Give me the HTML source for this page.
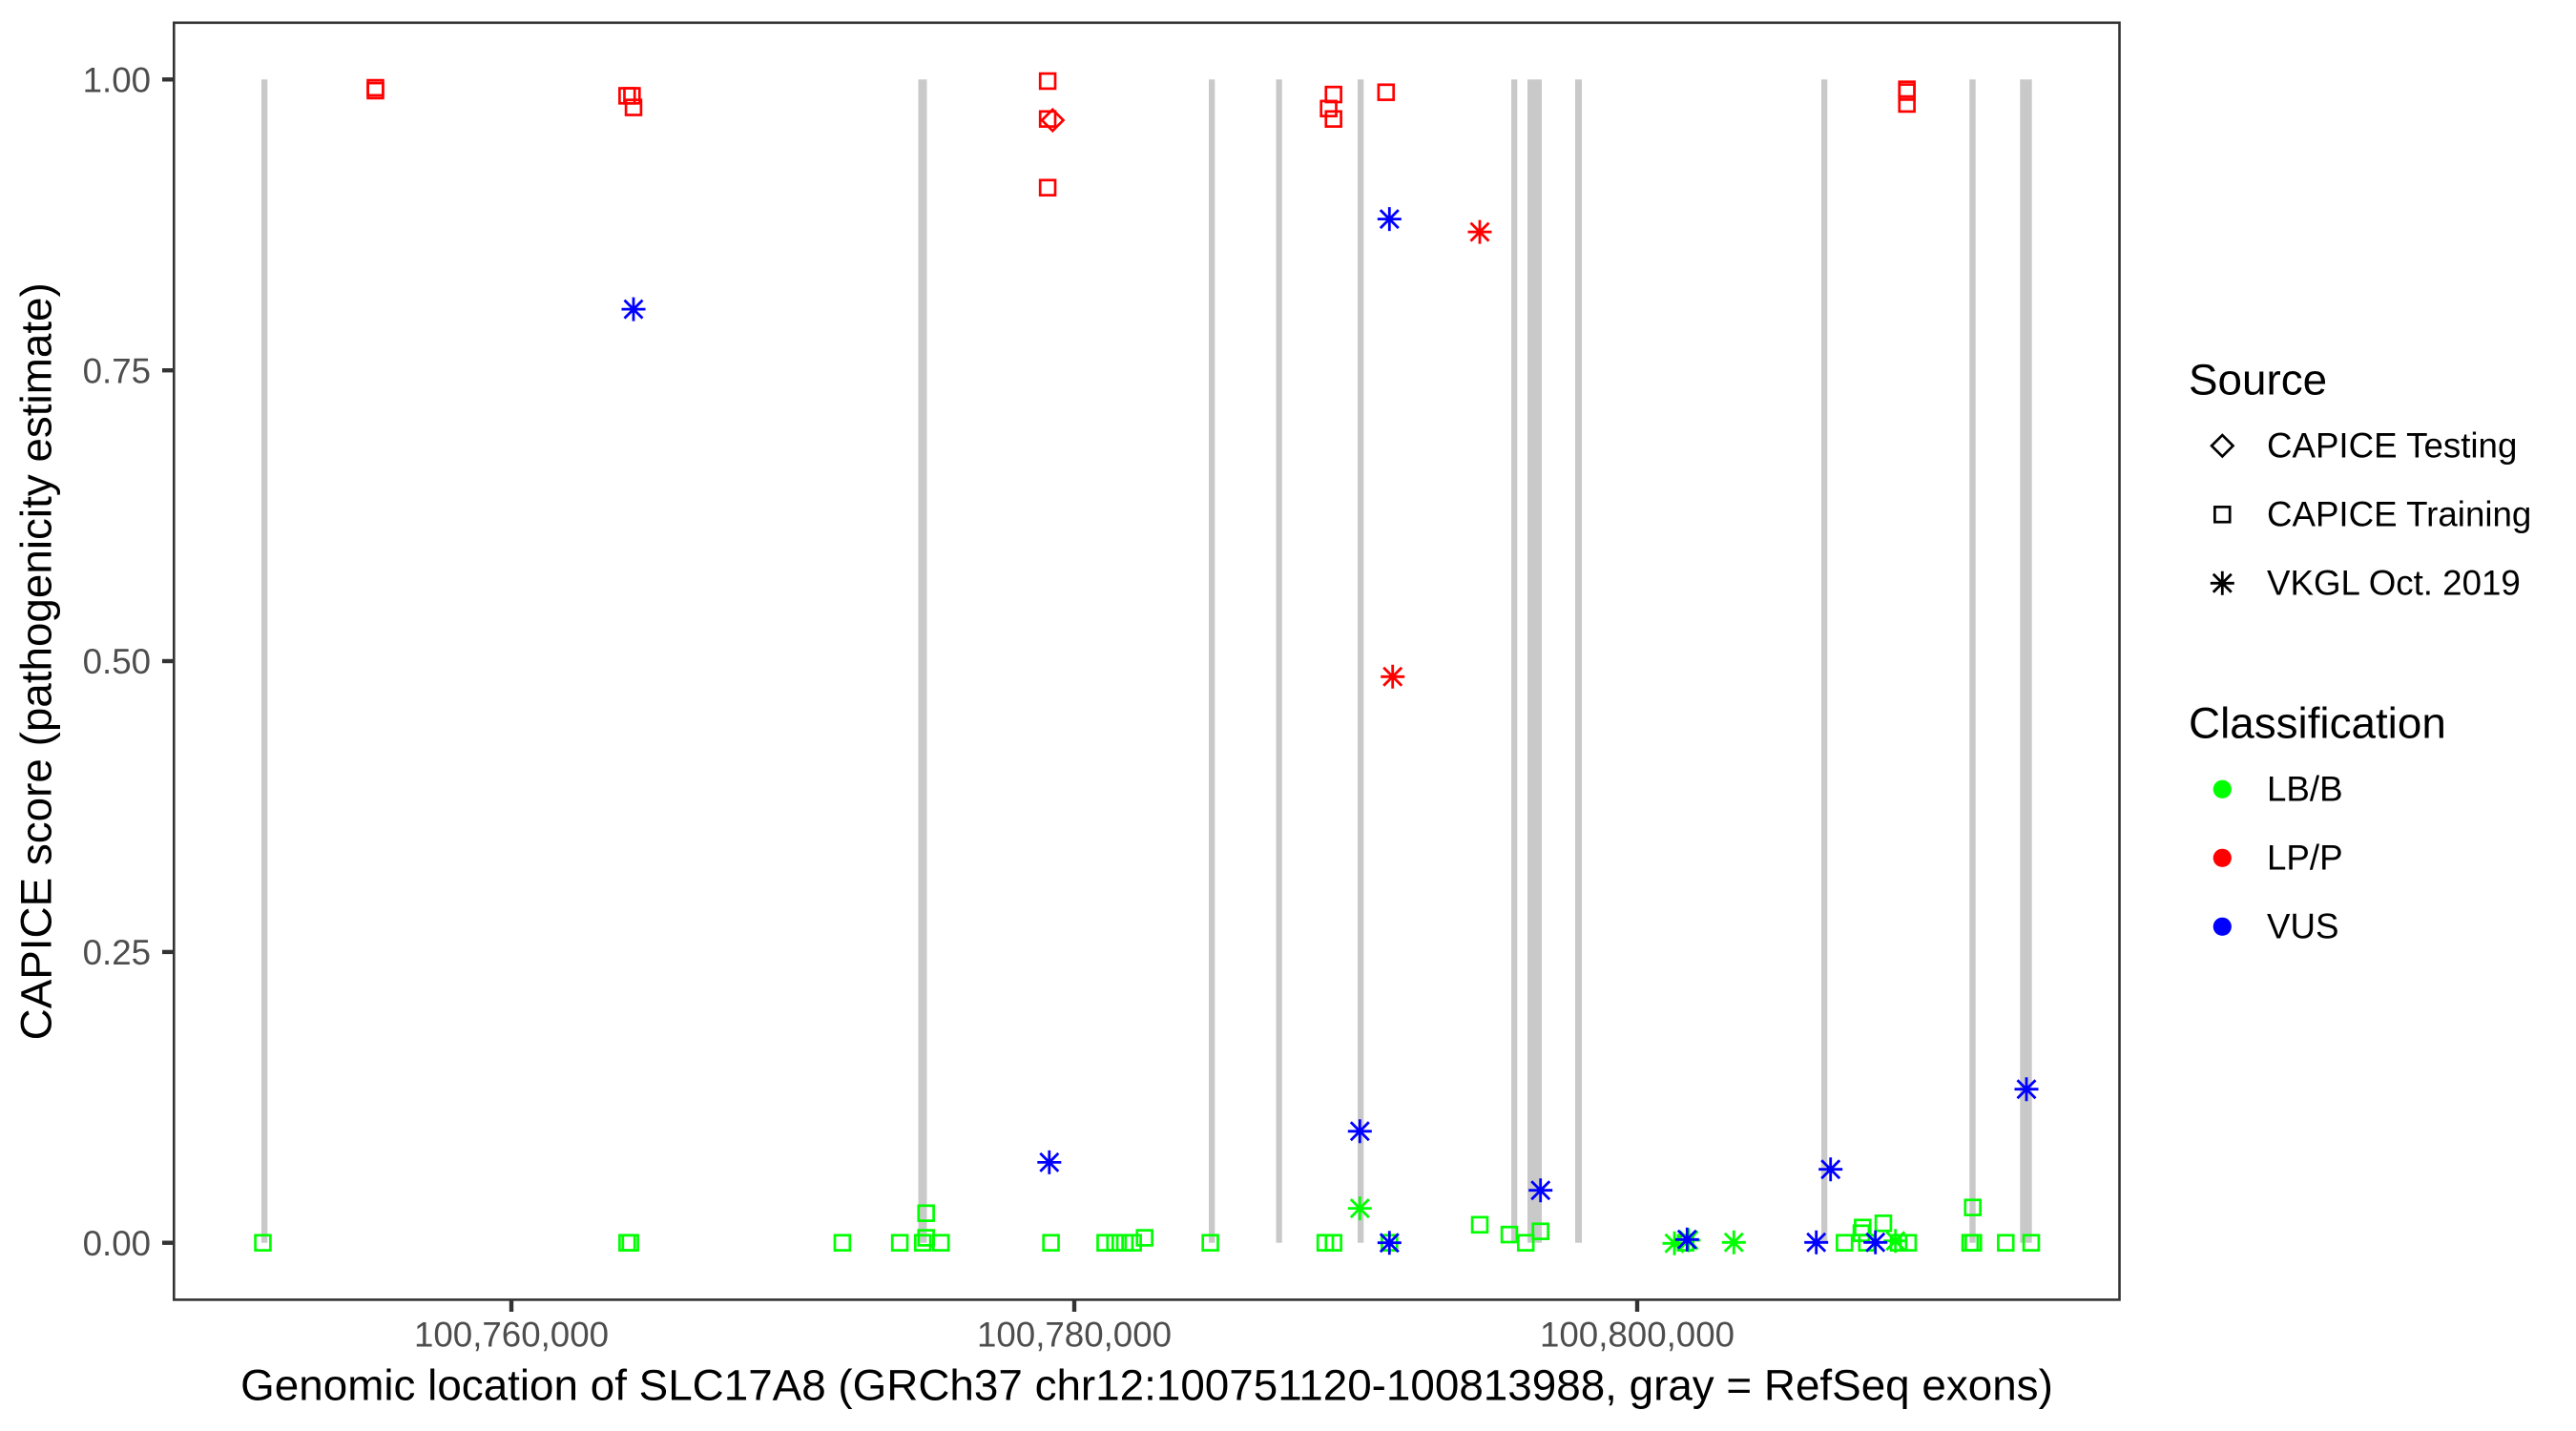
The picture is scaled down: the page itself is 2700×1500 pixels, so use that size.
<!DOCTYPE html>
<html><head><meta charset="utf-8"><style>
html,body{margin:0;padding:0;background:#fff;}
svg{display:block;}
text{font-family:"Liberation Sans",Arial,sans-serif;}
</style></head><body>
<svg width="2700" height="1500" viewBox="0 0 2700 1500" xmlns="http://www.w3.org/2000/svg">
<defs>
<g id="sq"><rect x="-7.9" y="-7.9" width="15.8" height="15.8" fill="none" stroke-width="2.7"/></g>
<g id="dm"><path d="M0,-11.2 L11.2,0 L0,11.2 L-11.2,0 Z" fill="none" stroke-width="2.7"/></g>
<g id="as"><path d="M0,-12.5 V12.5 M-12.5,0 H12.5 M-9.5,-9.5 L9.5,9.5 M-9.5,9.5 L9.5,-9.5" fill="none" stroke-width="2.8"/></g>
</defs>
<rect width="2700" height="1500" fill="#fff"/>
<!-- exon lines -->
<g fill="#C9C9C9">
<rect x="274" y="83.3" width="6.3" height="1219.4"/>
<rect x="962.5" y="83.3" width="9" height="1219.4"/>
<rect x="1267" y="83.3" width="6.3" height="1219.4"/>
<rect x="1337.5" y="83.3" width="6.3" height="1219.4"/>
<rect x="1423" y="83.3" width="6.3" height="1219.4"/>
<rect x="1584" y="83.3" width="6.3" height="1219.4"/>
<rect x="1601" y="83.3" width="15" height="1219.4"/>
<rect x="1651" y="83.3" width="7" height="1219.4"/>
<rect x="1909" y="83.3" width="6.3" height="1219.4"/>
<rect x="2064.3" y="83.3" width="6.4" height="1219.4"/>
<rect x="2117.3" y="83.3" width="12.4" height="1219.4"/>
</g>
<!-- green squares -->
<g stroke="#00FF00">
<use href="#sq" x="275.5" y="1302.7"/><use href="#sq" x="657.3" y="1302.7"/><use href="#sq" x="660.7" y="1302.7"/>
<use href="#sq" x="882.9" y="1302.7"/><use href="#sq" x="943.1" y="1302.7"/><use href="#sq" x="967.2" y="1302.7"/>
<use href="#sq" x="970.7" y="1271.7"/><use href="#sq" x="970.7" y="1297.5"/><use href="#sq" x="986.2" y="1302.7"/>
<use href="#sq" x="1101.6" y="1302.7"/><use href="#sq" x="1158.4" y="1302.7"/><use href="#sq" x="1168.7" y="1302.7"/>
<use href="#sq" x="1179" y="1302.7"/><use href="#sq" x="1187.7" y="1302.7"/><use href="#sq" x="1199.7" y="1297.5"/>
<use href="#sq" x="1268.6" y="1302.7"/><use href="#sq" x="1389.1" y="1302.7"/><use href="#sq" x="1397.7" y="1302.7"/>
<use href="#sq" x="1456.3" y="1302.7"/><use href="#sq" x="1551" y="1283.8"/><use href="#sq" x="1582" y="1294.1"/>
<use href="#sq" x="1599.2" y="1302.7"/><use href="#sq" x="1614.7" y="1290.7"/><use href="#sq" x="1766.7" y="1302.7"/>
<use href="#sq" x="1933.3" y="1302.7"/><use href="#sq" x="1951" y="1292.7"/><use href="#sq" x="1952.3" y="1286.7"/>
<use href="#sq" x="1956.7" y="1302.7"/><use href="#sq" x="1974" y="1282.3"/><use href="#sq" x="1990" y="1302.7"/>
<use href="#sq" x="2000" y="1302.7"/><use href="#sq" x="2065" y="1302.7"/><use href="#sq" x="2068.3" y="1302.7"/>
<use href="#sq" x="2067.7" y="1265.7"/><use href="#sq" x="2102.3" y="1302.7"/><use href="#sq" x="2129" y="1302.7"/>
</g>
<!-- red squares -->
<g stroke="#FF0000">
<use href="#sq" x="393.5" y="92"/><use href="#sq" x="393.5" y="95"/>
<use href="#sq" x="657.3" y="100.4"/><use href="#sq" x="662.4" y="100.4"/><use href="#sq" x="664" y="112.6"/>
<use href="#sq" x="1098.1" y="85"/><use href="#sq" x="1098.1" y="196.7"/><use href="#sq" x="1098.1" y="124.7"/>
<use href="#sq" x="1392.6" y="113.8"/><use href="#sq" x="1397.7" y="99.1"/><use href="#sq" x="1397.7" y="124.7"/>
<use href="#sq" x="1452.8" y="96.7"/>
<use href="#sq" x="1998.7" y="93.6"/><use href="#sq" x="1998.7" y="96.5"/><use href="#sq" x="1998.7" y="109"/>
<use href="#dm" x="1103.3" y="126"/>
<use href="#as" x="1551" y="243.1"/><use href="#as" x="1459.7" y="709.3"/>
</g>
<!-- green asterisks -->
<g stroke="#00FF00">
<use href="#as" x="1425.3" y="1266.6"/><use href="#as" x="1755" y="1303.3"/><use href="#as" x="1770" y="1300"/>
<use href="#as" x="1817.3" y="1302.3"/><use href="#as" x="1986.7" y="1300.7"/>
</g>
<!-- blue asterisks -->
<g stroke="#0000FF">
<use href="#as" x="664" y="324.1"/><use href="#as" x="1456.3" y="229.6"/><use href="#as" x="1099.8" y="1218.4"/>
<use href="#as" x="1425.3" y="1185.8"/><use href="#as" x="1614.7" y="1247.7"/><use href="#as" x="1918.7" y="1225.7"/>
<use href="#as" x="2124" y="1141.7"/><use href="#as" x="1456.3" y="1302.7"/><use href="#as" x="1903.7" y="1302.3"/>
<use href="#as" x="1965.7" y="1302.3"/><use href="#as" x="1768.3" y="1299.3"/>
</g>
<!-- panel border -->
<rect x="182.3" y="23.8" width="2039.2" height="1338.6" fill="none" stroke="#333333" stroke-width="2.6"/>
<!-- y ticks -->
<g stroke="#333333" stroke-width="4.4">
<line x1="170" y1="83.3" x2="181" y2="83.3"/>
<line x1="170" y1="388.2" x2="181" y2="388.2"/>
<line x1="170" y1="693" x2="181" y2="693"/>
<line x1="170" y1="997.9" x2="181" y2="997.9"/>
<line x1="170" y1="1302.7" x2="181" y2="1302.7"/>
<line x1="536" y1="1363.5" x2="536" y2="1375"/>
<line x1="1126" y1="1363.5" x2="1126" y2="1375"/>
<line x1="1716" y1="1363.5" x2="1716" y2="1375"/>
</g>
<g fill="#4D4D4D" font-size="36.7" text-anchor="end">
<text x="158" y="96.4">1.00</text>
<text x="158" y="401.3">0.75</text>
<text x="158" y="706.1">0.50</text>
<text x="158" y="1011">0.25</text>
<text x="158" y="1315.8">0.00</text>
</g>
<g fill="#4D4D4D" font-size="36.7" text-anchor="middle">
<text x="536" y="1411.7">100,760,000</text>
<text x="1126" y="1411.7">100,780,000</text>
<text x="1716" y="1411.7">100,800,000</text>
</g>
<text x="1202" y="1467.3" font-size="45.8" fill="#000" text-anchor="middle">Genomic location of SLC17A8 (GRCh37 chr12:100751120-100813988, gray = RefSeq exons)</text>
<text transform="translate(53.5,693.3) rotate(-90)" font-size="45.8" fill="#000" text-anchor="middle">CAPICE score (pathogenicity estimate)</text>
<!-- legend -->
<text x="2294" y="413.3" font-size="45.8" fill="#000">Source</text>
<g stroke="#000">
<use href="#dm" x="2329.3" y="467.3"/>
<use href="#sq" x="2329.3" y="539.3"/>
<use href="#as" x="2329.3" y="611.3"/>
</g>
<g font-size="36.7" fill="#000">
<text x="2376" y="479.6">CAPICE Testing</text>
<text x="2376" y="551.6">CAPICE Training</text>
<text x="2376" y="623.6">VKGL Oct. 2019</text>
</g>
<text x="2294" y="773.3" font-size="45.8" fill="#000">Classification</text>
<circle cx="2329.3" cy="827.3" r="9.6" fill="#00FF00"/>
<circle cx="2329.3" cy="899.3" r="9.6" fill="#FF0000"/>
<circle cx="2329.3" cy="971.3" r="9.6" fill="#0000FF"/>
<g font-size="36.7" fill="#000">
<text x="2376" y="839.6">LB/B</text>
<text x="2376" y="911.6">LP/P</text>
<text x="2376" y="983.6">VUS</text>
</g>
</svg>
</body></html>
